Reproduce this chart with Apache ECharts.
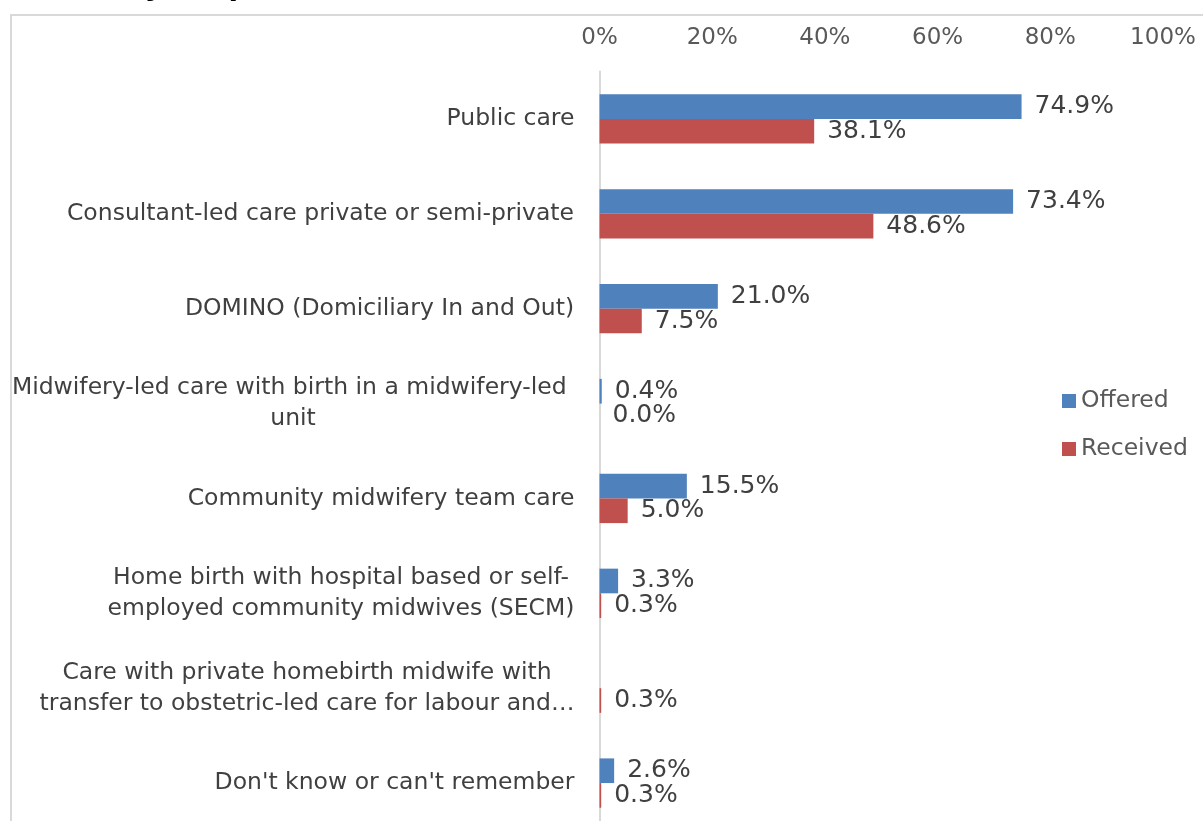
<!DOCTYPE html>
<html>
<head>
<meta charset="utf-8">
<script src="https://cdn.jsdelivr.net/npm/echarts@6/dist/echarts.min.js"></script>
<style>
  html, body { margin: 0; padding: 0; background: #fff; overflow: hidden; }
  #chart { width: 1203px; height: 831px; }
  #frame { position: absolute; left: 10px; top: 14px; width: 1300px; height: 900px;
           border-left: 2px solid #D9D9D9; border-top: 2px solid #D9D9D9; pointer-events: none; }
</style>
</head>
<body>
<div id="chart"></div>
<div id="frame"></div>
<script>
// Types of maternity care, share of respondents
const categories = [
  'Public care',
  'Consultant-led care private or semi-private',
  'DOMINO (Domiciliary In and Out)',
  'Midwifery-led care with birth in a midwifery-led \nunit',
  'Community midwifery team care',
  'Home birth with hospital based or self-\nemployed community midwives (SECM)',
  'Care with private homebirth midwife with\ntransfer to obstetric-led care for labour and\u2026',
  "Don't know or can't remember"
];
const offered  = [74.9, 73.4, 21.0, 0.4, 15.5, 3.3, null, 2.6];
const received = [38.1, 48.6, 7.5, 0.0, 5.0, 0.3, 0.3, 0.3];
const xTicks = [0, 20, 40, 60, 80, 100];

const FONT = '"DejaVu Sans", Verdana, sans-serif';
const CAT_SIZE = 23.5;
const CAT_LINE = 31;

// Each wrapped category label is centred line by line inside a box as wide as its longest line
const ctx = document.createElement('canvas').getContext('2d');
ctx.font = `${CAT_SIZE}px ${FONT}`;
const rich = {};
categories.forEach((c, i) => {
  const w = Math.max(...c.split('\n').map(l => ctx.measureText(l).width));
  rich['c' + i] = { width: Math.ceil(w), align: 'center', fontSize: CAT_SIZE,
                    lineHeight: CAT_LINE, color: '#404040', fontFamily: FONT };
});

const chart = echarts.init(document.getElementById('chart'));
const valueLabel = {
  show: true, position: 'right', distance: 13,
  fontSize: 25, color: '#404040', fontFamily: FONT,
  formatter: p => (p.value == null ? '' : p.value.toFixed(1) + '%')
};
chart.setOption({
  animation: false,
  title: {
    text: 'Offered by hospital', right: 898, top: -31,
    textStyle: { fontSize: 28, fontWeight: 'bold', color: '#000', fontFamily: FONT }
  },
  legend: {
    orient: 'vertical', left: 1057, top: 384,
    itemWidth: 14, itemHeight: 14, itemGap: 24, icon: 'rect',
    textStyle: { fontSize: 23.5, color: '#595959', fontFamily: FONT },
    data: ['Offered', 'Received']
  },
  grid: { left: 599.5, right: 40, top: 71.5, height: 759, containLabel: false },
  xAxis: {
    type: 'value', position: 'top', min: 0, max: 100, interval: 20,
    axisLine: { show: false }, axisTick: { show: false }, splitLine: { show: false },
    axisLabel: { formatter: '{value}%', fontSize: 23, color: '#595959', fontFamily: FONT, margin: 22 },
    data: xTicks
  },
  yAxis: {
    type: 'category', inverse: true, data: categories,
    axisLine: { show: true, lineStyle: { color: '#D9D9D9', width: 2 } },
    axisTick: { show: false },
    axisLabel: {
      margin: 25, rich,
      formatter: (v, i) => v.split('\n').map(l => `{c${i}|${l}}`).join('\n')
    }
  },
  series: [
    { name: 'Offered', type: 'bar', data: offered, barGap: '0%', barCategoryGap: '48%',
      itemStyle: { color: '#4F81BD' }, label: valueLabel },
    { name: 'Received', type: 'bar', data: received, barGap: '0%', barCategoryGap: '48%',
      itemStyle: { color: '#C0504D' }, label: valueLabel }
  ]
});
</script>
</body>
</html>
